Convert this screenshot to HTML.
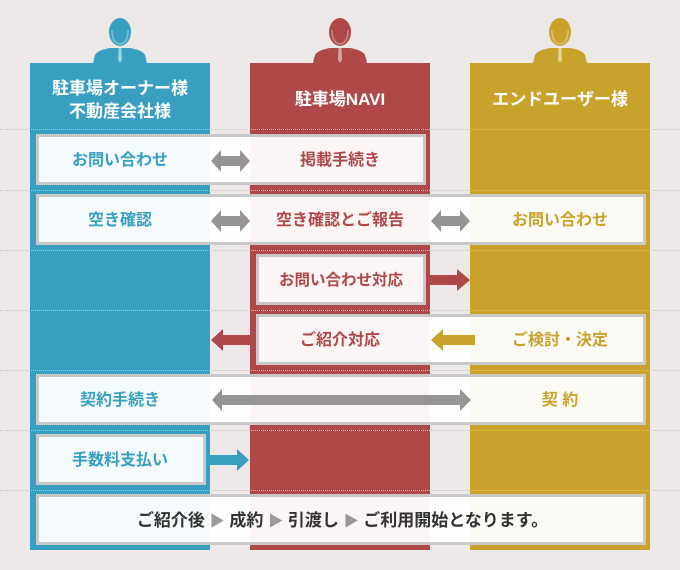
<!DOCTYPE html>
<html><head><meta charset="utf-8"><style>
body{margin:0;width:680px;height:570px;background:#ede9e8;position:relative;overflow:hidden;font-family:"Liberation Sans","Noto Sans CJK JP",sans-serif;font-weight:bold}
.col{position:absolute;top:63px;height:487px;width:180px}
.dl{position:absolute;left:0;width:680px;border-top:1px dotted #c6c2c0}
.hd{position:absolute;color:#fff;font-size:17px;text-align:center;width:180px;line-height:23px}
.bx{position:absolute;box-sizing:border-box;border:3px solid #c9c9c9;background:rgba(255,255,255,.95);font-size:16px;height:51px;line-height:47px}
.t{position:absolute;text-align:center;width:168px}
svg{position:absolute;left:0;top:0}
</style></head><body>
<div class="col" style="left:30px;background:#389fc1"></div>
<div class="col" style="left:250px;background:#af4848"></div>
<div class="col" style="left:470px;background:#c9a22c"></div>
<div class="dl" style="top:129px"></div><div class="dl" style="top:190px"></div><div class="dl" style="top:250px"></div><div class="dl" style="top:310px"></div><div class="dl" style="top:370px"></div><div class="dl" style="top:430px"></div><div class="dl" style="top:490px"></div>
<div class="hd" style="left:30px;top:77px">駐車場オーナー様<br>不動産会社様</div>
<div class="hd" style="left:250px;top:88px">駐車場NAVI</div>
<div class="hd" style="left:470px;top:88px">エンドユーザー様</div>

<div class="bx" style="left:36px;top:134px;width:390px"><span class="t" style="left:-3px;color:#389fc1">お問い合わせ</span><span class="t" style="left:217px;color:#af4848">掲載手続き</span></div>
<div class="bx" style="left:36px;top:194px;width:610px"><span class="t" style="left:-3px;color:#389fc1">空き確認</span><span class="t" style="left:217px;color:#af4848">空き確認とご報告</span><span class="t" style="left:437px;color:#c9a22c">お問い合わせ</span></div>
<div class="bx" style="left:256px;top:254px;width:170px"><span class="t" style="left:-3px;width:170px;color:#af4848;font-size:15.5px">お問い合わせ対応</span></div>
<div class="bx" style="left:256px;top:314px;width:390px"><span class="t" style="left:-3px;color:#af4848">ご紹介対応</span><span class="t" style="left:217px;color:#c9a22c">ご検討・決定</span></div>
<div class="bx" style="left:36px;top:374px;width:610px"><span class="t" style="left:-3px;color:#389fc1">契約手続き</span><span class="t" style="left:437px;color:#c9a22c">契 約</span></div>
<div class="bx" style="left:36px;top:434px;width:170px"><span class="t" style="left:-3px;color:#389fc1">手数料支払い</span></div>
<div class="bx" style="left:36px;top:494px;width:610px;text-align:center;color:#333;font-size:17px;padding-left:3px">ご紹介後 <span style="color:#999;font-size:15px">▶</span> 成約 <span style="color:#999;font-size:15px">▶</span> 引渡し <span style="color:#999;font-size:15px">▶</span> ご利用開始となります。</div>

<svg width="680" height="570">
<defs>
<g id="man"><ellipse cx="0" cy="-31" rx="11" ry="14"/><path d="M-27 0 L-25 -8 Q-22 -13 -10 -15 L10 -15 Q22 -13 25 -8 L27 0Z"/>
<path d="M-8 -33 Q-8 -20 0 -19 Q8 -20 8 -33" fill="none" stroke="rgba(255,255,255,.35)" stroke-width="1.5"/>
<path d="M-1.5 -15 L1.5 -15 L2 -3 L0 0 L-2 -3Z" fill="rgba(255,255,255,.5)"/></g>
</defs>
<g fill="#389fc1" transform="translate(120,63)"><use href="#man"/></g>
<g fill="#af4848" transform="translate(340,63)"><use href="#man"/></g>
<g fill="#c9a22c" transform="translate(560,63)"><use href="#man"/></g>
<g fill="#979593">
<path d="M211 161 L221 150 L221 156 L240 156 L240 150 L250 161 L240 172 L240 166 L221 166 L221 172Z"/>
<path d="M211 221 L221 210 L221 216 L240 216 L240 210 L250 221 L240 232 L240 226 L221 226 L221 232Z"/>
<path d="M431 221 L441 210 L441 216 L460 216 L460 210 L470 221 L460 232 L460 226 L441 226 L441 232Z"/>
<path d="M212 400 L222 389 L222 395 L460 395 L460 389 L471 400 L460 411 L460 405 L222 405 L222 411Z"/>
</g>
<path fill="#af4848" d="M427 275 L457 275 L457 269 L470 280 L457 291 L457 285 L427 285Z"/>
<path fill="#af4848" d="M253 335 L223 335 L223 329 L211 340 L223 351 L223 345 L253 345Z"/>
<path fill="#c9a22c" d="M475 335 L443 335 L443 329 L431 340 L443 351 L443 345 L475 345Z"/>
<path fill="#389fc1" d="M206 455 L237 455 L237 449 L249 460 L237 471 L237 465 L206 465Z"/>
</svg>
</body></html>
